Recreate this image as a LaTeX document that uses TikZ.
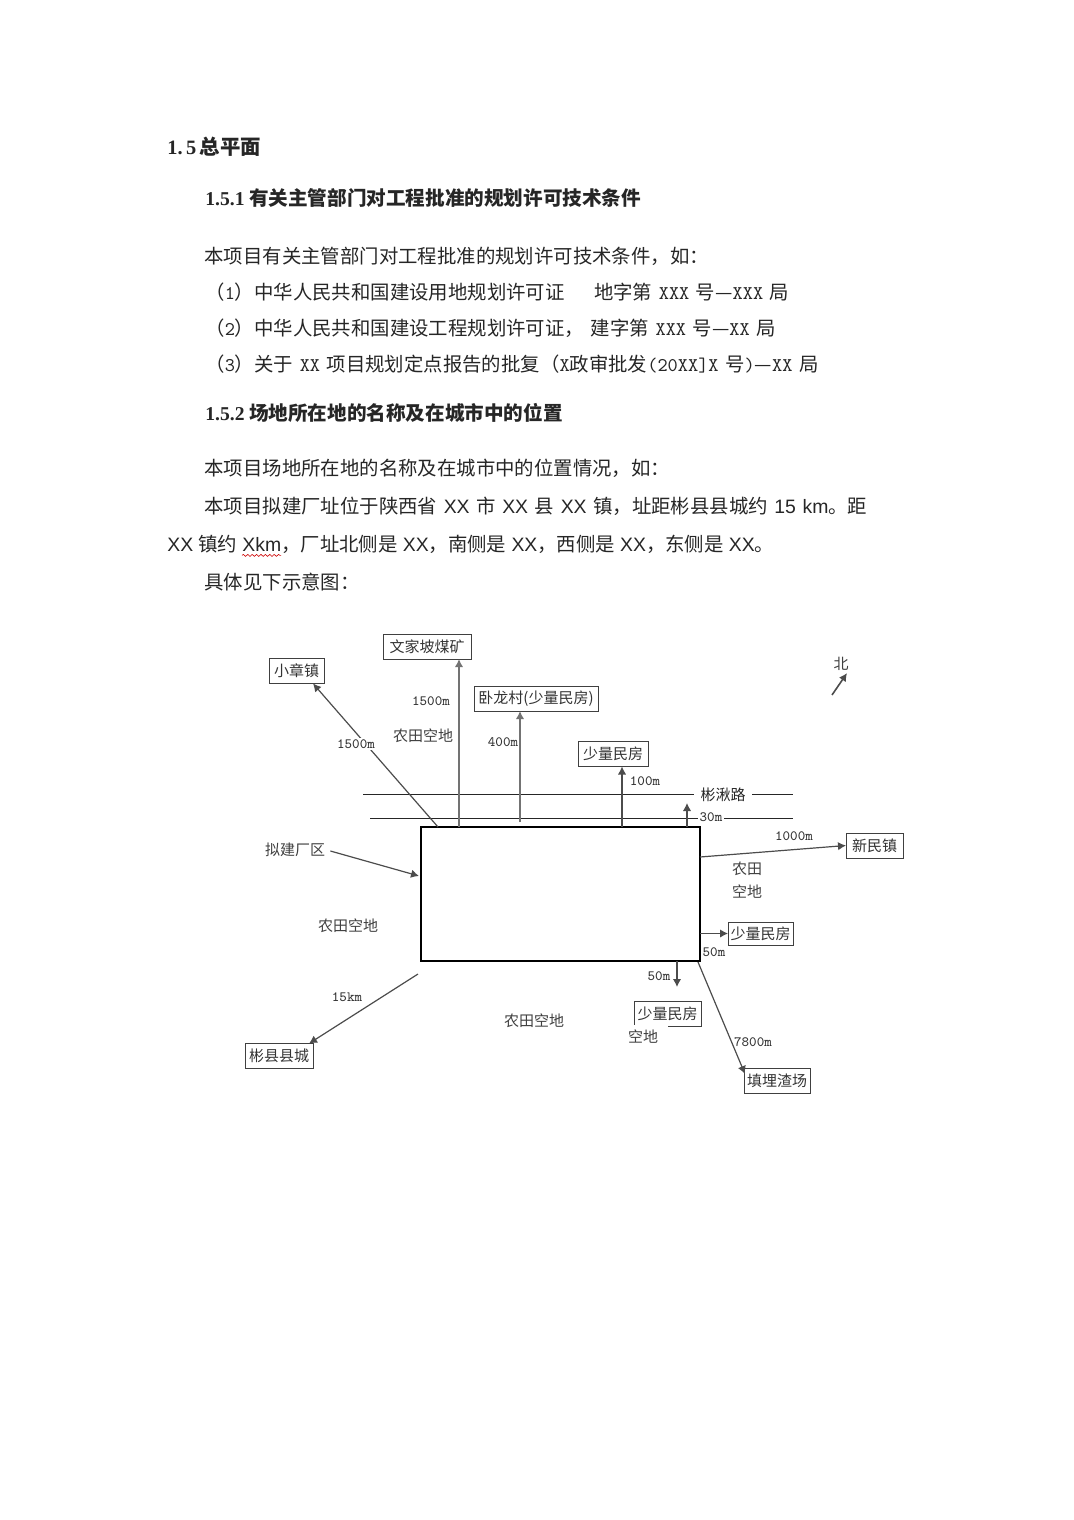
\documentclass[tikz,border=0pt]{standalone}
\usepackage{fontspec}
\setmainfont{Liberation Serif}
\setmonofont{Latin Modern Mono}
\newfontfamily\cjk{Noto Sans CJK SC}
\newfontfamily\armo{Liberation Sans}
\usetikzlibrary{arrows.meta,positioning,calc,decorations.pathmorphing}

\begin{document}
\begin{tikzpicture}[
  x=0.5pt, y=-0.5pt,
  font=\cjk\fontsize{7.5pt}{9pt}\selectfont,
  head/.style = {anchor=west, inner sep=0pt, text height=9pt, text depth=2pt,
                 font=\cjk\bfseries\fontsize{9.8pt}{11pt}\selectfont, text=black!85},
  body/.style = {anchor=west, inner sep=0pt, text height=9pt, text depth=2pt,
                 font=\cjk\fontsize{9.7pt}{11pt}\selectfont, text=black!85,
                 execute at begin node={\spaceskip=3.3pt}},
  plant/.style = {rectangle, draw, line width=1.2pt, outer sep=0pt,
                  minimum width=139.5pt, minimum height=67pt},
  place/.style = {rectangle, draw=black!75, line width=0.5pt, outer sep=0pt, inner sep=0pt,
                  minimum height=12.5pt, text=black!80},
  dist/.style = {fill=white, inner sep=1pt, text=black!80,
                 font=\ttfamily\fontsize{7.1pt}{9pt}\selectfont},
  land/.style = {inner sep=1pt, text=black!75},
  arr/.style = {-{Latex[length=4pt,width=4.2pt]}, line width=0.6pt, draw=black!70},
  road/.style = {line width=0.45pt, draw=black!85}
]
\useasboundingbox (0,0) rectangle (1074,1520);

% Text above the sketch
\node[head, font=\cjk\bfseries\fontsize{10.2pt}{11pt}\selectfont] (secA) at (167,148) {{\rmfamily 1.\,5\,}总平面};
\node[head] (secB) at (205,198) {{\rmfamily 1.5.1} 有关主管部门对工程批准的规划许可技术条件};
\node[body] (lineA) at (204,256) {本项目有关主管部门对工程批准的规划许可技术条件，如：};
\node[body] (lineB) at (205,292) {（{\ttfamily 1}）中华人民共和国建设用地规划许可证\quad\, 地字第 {\ttfamily XXX} 号—{\ttfamily XXX} 局};
\node[body] (lineC) at (205,328) {（{\ttfamily 2}）中华人民共和国建设工程规划许可证， 建字第 {\ttfamily XXX} 号—{\ttfamily XX} 局};
\node[body] (lineD) at (205,364) {（{\ttfamily 3}）关于 {\ttfamily XX} 项目规划定点报告的批复（{\ttfamily X}政审批发{\ttfamily (20XX]X} 号{\ttfamily )}—{\ttfamily XX} 局};
\node[head] (secC) at (205,413) {{\rmfamily 1.5.2} 场地所在地的名称及在城市中的位置};
\node[body] (lineE) at (204,468) {本项目场地所在地的名称及在城市中的位置情况，如：};
\node[body] (lineF) at (204,506) {本项目拟建厂址位于陕西省 {\armo XX} 市 {\armo XX} 县 {\armo XX} 镇，址距彬县县城约 {\armo 15 km}。距};
\node[body, execute at begin node={\spaceskip=2.6pt}] (lineG) at (167,544) {{\armo XX} 镇约 {\armo Xkm}，厂址北侧是 {\armo XX}，南侧是 {\armo XX}，西侧是 {\armo XX}，东侧是 {\armo XX}。};
\node[body] (lineH) at (204,582) {具体见下示意图：};
\draw[red!80!black, line width=0.3pt, decorate, decoration={snake,amplitude=0.5pt,segment length=2.2pt}]
  (lineG.south west) ++(75,0) -- ++(39,0);

% Plant site
\node[plant] (site) at (560.5,894) {};

% Surrounding places
\node[place, minimum width=44pt] (wenjia) at (427,646.5) {文家坡煤矿};
\node[place, minimum width=27.5pt] (xiaozhang) at (296.5,671) {小章镇};
\node[place, minimum width=62pt] (wolong) at (536,698.5) {卧龙村(少量民房)};
\node[place, minimum width=35pt] (houseN) at (613,754) {少量民房};
\node[place, minimum width=28.5pt] (xinmin) at (874.5,845.5) {新民镇};
\node[place, minimum width=32.5pt, minimum height=11.5pt] (houseE) at (760.5,933.5) {少量民房};
\node[place, minimum width=33.5pt] (houseS) at (667.5,1014) {少量民房};
\node[place, minimum width=33pt] (dump) at (777,1080.5) {填埋渣场};
\node[place, minimum width=34pt] (county) at (279,1056) {彬县县城};
\node[land] (siteName) at (295,850) {拟建厂区};
\node[land] (north) at (841,664) {北};

% Road
\coordinate (roadAw) at (363,794);
\coordinate (roadAe) at (793,794);
\coordinate (roadBw) at (370,818);
\coordinate (roadBe) at (793,818);
\draw[road] (roadAw) -- (roadAe);
\draw[road] (roadBw) -- (roadBe);

% Distances from the site
\draw[arr] ($(site.north west)+(17,0)$) -- ($(xiaozhang.south east)+(-11,0)$);
\draw[arr, line width=0.9pt, draw=black!55] ($(site.north west)+(38,0)$) -- (wenjia.south -| 459,0);
\draw[arr, line width=0.9pt, draw=black!55] ($(site.north west)+(99,-5)$) -- (wolong.south -| 520,0);
\draw[arr] ($(site.north west)+(201,0)$) -- (houseN.south -| 622,0);
\draw[arr] ($(site.north east)+(-13,0)$) -- ($(site.north east)+(-13,-24)$);
\draw[arr] ($(site.north east)+(0,30)$) -- (xinmin.west);
\draw[arr] (site.east |- houseE.west) -- (houseE.west);
\draw[arr] ($(site.south east)+(-23,0)$) -- ($(site.south east)+(-23,26)$);
\draw[arr] (site.south east) ++(-2,1) -- ($(dump.north west)+(1,6)$);
\draw[arr] ($(site.south west)+(-3,13)$) -- ($(county.north east)+(-4,0)$);
\draw[arr] ($(siteName.east)+(3,1)$) -- ($(site.north west)+(-2,49)$);
\coordinate (northTail) at (832,695);
\draw[arr, line width=0.8pt] (northTail) -- (north.south -| 847,0);

% Labels
\node[dist] (lenA) at (356,744) {1500m};
\node[dist, fill=none] (lenB) at (431,701) {1500m};
\node[dist, fill=none] (lenC) at (503,742) {400m};
\node[dist, fill=none] (lenD) at (645,781) {100m};
\node[dist] (lenE) at (711,817) {30m};
\node[dist, fill=none] (lenF) at (794,836) {1000m};
\node[dist, fill=none] (lenG) at (714,952) {50m};
\node[dist, fill=none] (lenH) at (659,976) {50m};
\node[dist, fill=none] (lenI) at (753,1042) {7800m};
\node[dist, fill=none] (lenJ) at (347,997) {15km};
\node[land, fill=white, text=black!85, minimum width=29pt] (roadName) at (723,795) {彬湫路};
\node[land] (fieldA) at (423,736) {农田空地};
\node[land] (fieldB) at (348,926) {农田空地};
\node[land] (fieldC) at (534,1021) {农田空地};
\node[land, align=center] (fieldD) at (747,880) {农田\\[2.2pt]空地};
\node[land, fill=white, minimum width=25pt, minimum height=12.5pt] (fieldE) at (643,1037) {空地};

\end{tikzpicture}
\end{document}
